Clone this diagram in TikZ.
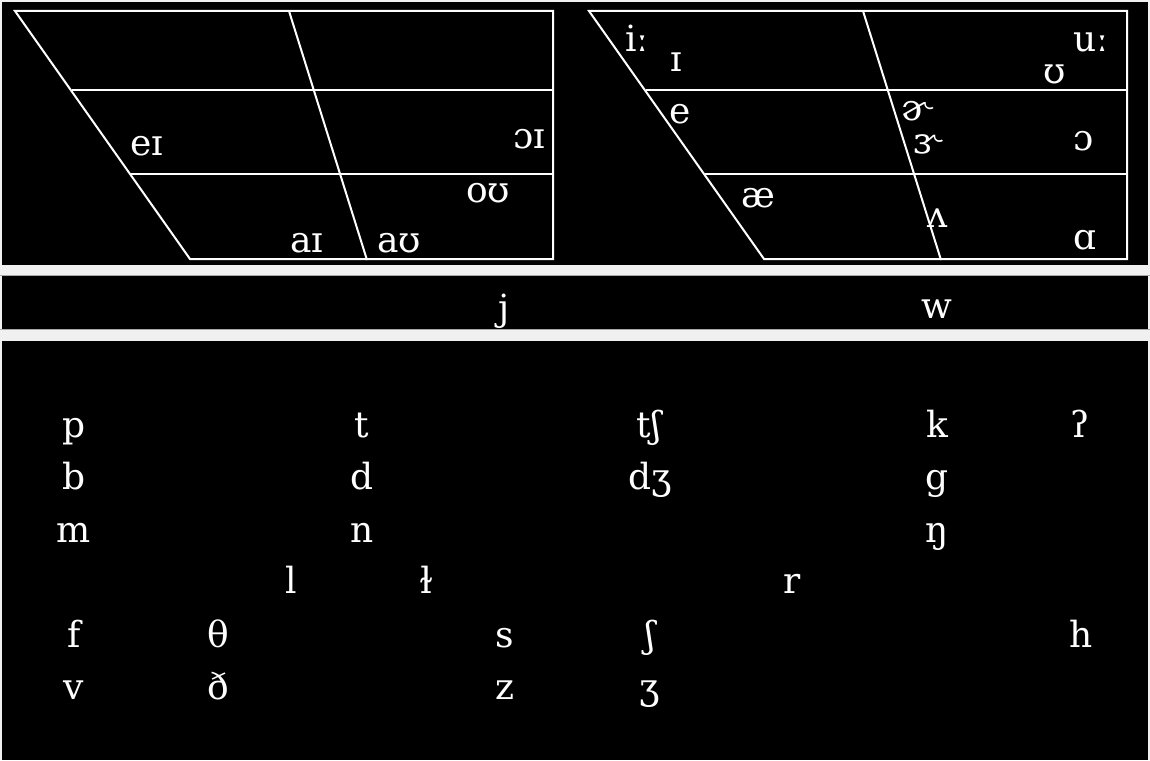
\documentclass[tikz,border=0pt]{standalone}
\usepackage{fontspec}
\setmainfont{DejaVu Serif}
\definecolor{bandgray}{HTML}{F0F0F0}
\definecolor{edgegray}{HTML}{A8A8A8}
\tikzset{
  ipa/.style={text=white, anchor=base, inner sep=0pt, font=\fontsize{36}{40}\selectfont},
  grid/.style={draw=white, line width=2pt}
}
\begin{document}
\begin{tikzpicture}[x=1pt,y=-1pt]
  \useasboundingbox (0,0) rectangle (1150,760);
  \fill[bandgray] (0,0) rectangle (1150,760);
  \fill[black] (2,2) rectangle (1148,265);
  \fill[black] (2,276) rectangle (1148,329);
  \fill[black] (2,341) rectangle (1148,760);
  \draw[edgegray, line width=1pt] (0,275.5) -- (1150,275.5);
  \draw[edgegray, line width=1pt] (0,329.5) -- (1150,329.5);
  % the two vowel quadrilaterals
  \foreach \o in {0,574} {
    \begin{scope}[xshift=\o]
      \draw[grid] (15,11) -- (553,11) -- (553,259) -- (190,259) -- cycle;
      \draw[grid] (72,90) -- (553,90);
      \draw[grid] (131,174) -- (553,174);
      \draw[grid] (289,11) -- (367,260);
    \end{scope}
  }
  % diphthongs
  \foreach \x/\y/\t [count=\i] in {147/155/eɪ, 529/148/ɔɪ, 488/202/oʊ, 307/252/aɪ, 399/252/aʊ}
    \node[ipa] (dip\i) at (\x,\y) {\t};
  % monophthongs
  \foreach \x/\y/\t [count=\i] in {637/52/iː, 676/71/ɪ, 1091/52/uː, 1055/83/ʊ, 680/123/e,
      917/120/ɚ, 927/153/ɝ, 1084/150/ɔ, 758/207/æ, 938/227/ʌ, 1085/249/ɑ}
    \node[ipa] (mon\i) at (\x,\y) {\t};
  % glides
  \node[ipa] (glj) at (504,320) {j};
  \node[ipa] (glw) at (937,318) {w};
  % consonants
  \foreach \x/\y/\t [count=\i] in {74/437/p, 362/437/t, 649/437/tʃ, 937/437/k, 1080/437/ʔ,
      74/489/b, 362/489/d, 650/489/dʒ, 937/489/g,
      74/542/m, 362/542/n, 937/542/ŋ,
      291/593/l, 426/593/ɫ, 792/593/r,
      74/647/f, 218/647/θ, 505/647/s, 650/647/ʃ, 1081/647/h,
      74/699/v, 218/699/ð, 505/699/z, 650/699/ʒ}
    \node[ipa] (con\i) at (\x,\y) {\t};
\end{tikzpicture}
\end{document}
